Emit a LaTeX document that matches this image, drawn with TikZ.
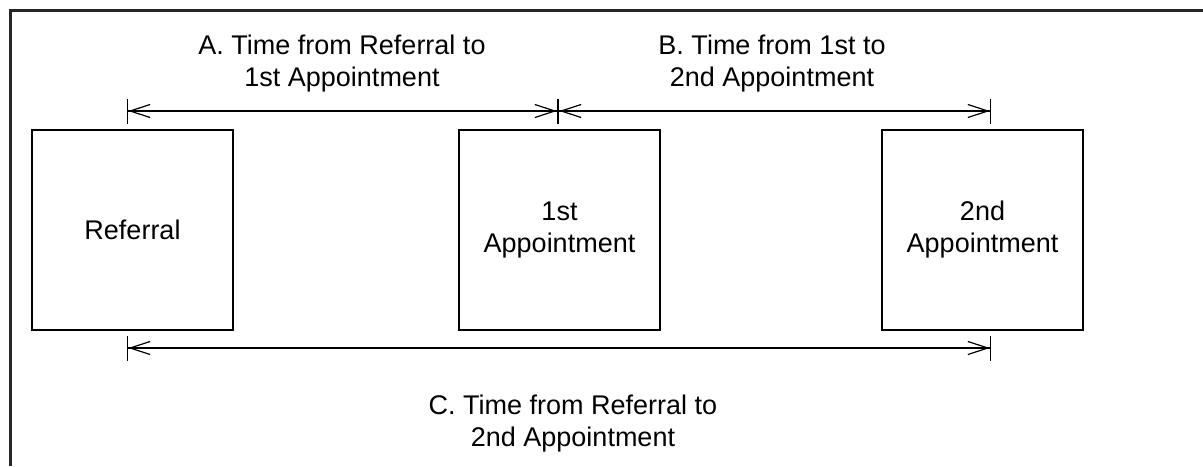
\documentclass[tikz,border=0pt]{standalone}
\usepackage{fontspec}
\setmainfont{Liberation Sans}
\usetikzlibrary{positioning, arrows.meta}
\tikzset{
	stage/.style={draw=black, line width=.65pt, minimum width=100.5pt, minimum height=100pt, inner sep=0pt, align=center},
	span/.style={line width=.6pt, {Bar[width=12.5pt]Straight Barb[length=10pt, width=6.5pt]}-{Straight Barb[length=10pt, width=6.5pt]Bar[width=12.5pt]}},
	spanlabel/.style={align=center, inner sep=0pt},
	frame/.style={draw=black!85, line width=1.5pt}
}

\begin{document}
\begin{tikzpicture}[x=0.5pt, y=-0.5pt, font=\fontsize{13.5}{16}\selectfont]
\useasboundingbox (0,0) rectangle (1203,466);
\draw [frame] (10,466) -- (10,10) -- (1203,10);
% stages
\node [stage] (ref) at (132.5,230) {Referral};
\node [stage] (app1) at (559.5,230) {1st\\Appointment};
\node [stage] (app2) at (982.5,230) {2nd\\Appointment};
% dimension ends
\coordinate (a0) at (127,111);
\coordinate (a1) at (558,111);
\coordinate (b1) at (991,111);
\coordinate (c0) at (127,348);
\coordinate (c1) at (991,348);
\draw [span] (a0) -- (a1);
\draw [span] (a1) -- (b1);
\draw [span] (c0) -- (c1);
% labels
\node [spanlabel] (labA) at (342,64) {A. Time from Referral to\\1st Appointment};
\node [spanlabel] (labB) at (772,64) {B. Time from 1st to\\2nd Appointment};
\node [spanlabel] (labC) at (573,424) {C. Time from Referral to\\2nd Appointment};
\end{tikzpicture}
\end{document}
